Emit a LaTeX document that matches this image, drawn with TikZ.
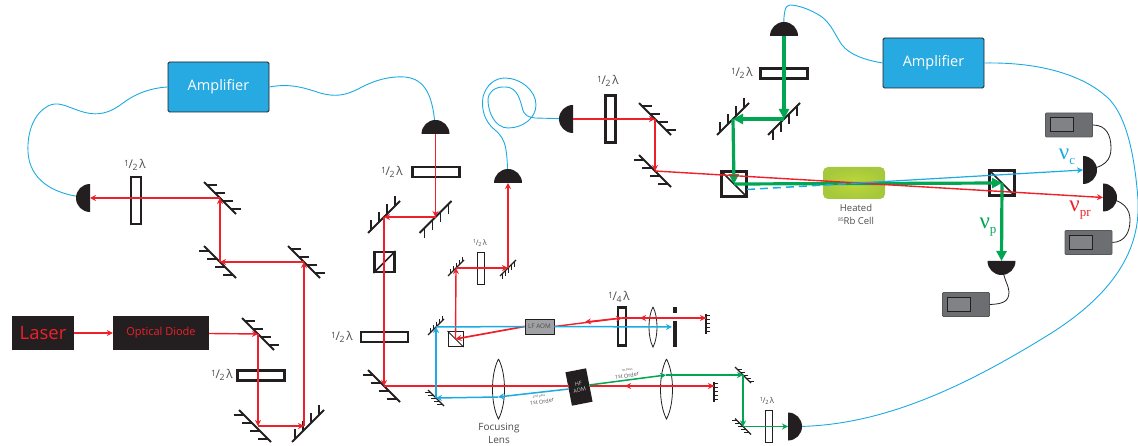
\documentclass[tikz,border=0pt]{standalone}
\usepackage{fontspec}
\usepackage{graphicx}
\usetikzlibrary{arrows.meta}
\setmainfont{Open Sans}
\newfontfamily\nufont{Liberation Serif}
\definecolor{beamred}{RGB}{238,32,42}
\definecolor{beamblue}{RGB}{28,170,226}
\definecolor{beamgreen}{RGB}{0,166,81}
\definecolor{inkblack}{RGB}{35,31,32}
\definecolor{ampblue}{RGB}{39,170,225}
\definecolor{scopegray}{RGB}{109,110,113}
\definecolor{screengray}{RGB}{128,130,133}
\definecolor{labelgray}{RGB}{75,75,78}
\definecolor{cellinner}{RGB}{192,215,55}
\definecolor{cellouter}{RGB}{165,200,60}
\newcommand{\halflam}{\raisebox{.4ex}{\scalebox{.72}{1}}\kern-.04em/\kern-.04em\raisebox{-.3ex}{\scalebox{.72}{2}}\,λ}
\newcommand{\quartlam}{\raisebox{.4ex}{\scalebox{.72}{1}}\kern-.04em/\kern-.04em\raisebox{-.3ex}{\scalebox{.72}{4}}\,λ}
\newcommand{\nusub}[1]{{\fontsize{23}{24}\selectfont ν}\raisebox{-1.1ex}{\fontsize{13}{14}\selectfont #1}}

\begin{document}
\begin{tikzpicture}[
    x=1pt, y=-1pt,
    mirrorline/.style={inkblack, line width=1.9pt},
    redbeam/.style={beamred, line width=1.4pt, -{Stealth[length=6pt, width=6pt]}},
    bluebeam/.style={beamblue, line width=1.5pt, -{Stealth[length=6pt, width=6pt]}},
    thingreen/.style={beamgreen, line width=1.5pt, -{Stealth[length=6pt, width=6pt]}},
    thickgreen/.style={beamgreen, line width=3.2pt, -{Stealth[length=10pt, width=10pt, inset=0pt]}},
    fibre/.style={beamblue, line width=0.9pt},
    wire/.style={inkblack, line width=0.8pt},
    amplifier/.style={draw=inkblack, rounded corners=1.5pt, fill=ampblue, text=white, minimum width=101, minimum height=50, line width=0.8pt, font=\fontsize{14.5}{16}\selectfont},
    blackbox/.style={fill=inkblack, text=beamred, inner sep=0pt},
    hplate/.style={draw=inkblack, fill=white, line width=2.2pt, minimum width=47, minimum height=10, inner sep=0pt},
    vplate/.style={draw=inkblack, fill=white, line width=2.2pt, minimum width=10, minimum height=47, inner sep=0pt},
    cube/.style={draw=inkblack, line width=2.2pt, minimum width=25, minimum height=25, inner sep=0pt},
    scopebox/.style={draw=scopegray!80!black, fill=scopegray, rounded corners=1pt, minimum width=47, minimum height=24, inner sep=0pt, line width=0.8pt},
    screenbox/.style={draw=inkblack, fill=screengray, minimum width=23, minimum height=14, inner sep=0pt, line width=1pt},
    oplabel/.style={text=labelgray, inner sep=0pt, font=\fontsize{12}{13}\selectfont},
    smalllabel/.style={text=labelgray, inner sep=0pt, font=\fontsize{7.5}{8}\selectfont},
    mirror/.pic={
        \draw[mirrorline] (-16,-16) -- (16,16);
        \foreach \t in {-13,-5,3,11} \draw[mirrorline] (\t,\t) -- ++(10,0);
    },
    tinymirror/.pic={
        \draw[inkblack, line width=1.2pt] (-8,-8) -- (8,8);
        \foreach \t in {-6,-3,0,3,6} \draw[inkblack, line width=0.8pt] (\t,\t) -- ++(5,0);
    },
    flatmirror/.pic={
        \draw[inkblack, line width=1.2pt] (0,-4) -- (0,16);
        \foreach \t in {-3,1,5,9,13} \draw[inkblack, line width=0.8pt] (0,\t) -- ++(4,0);
    },
    detector/.pic={
        \fill[inkblack] (-14pt,0pt) arc[start angle=180, end angle=0, radius=14pt] -- cycle;
    },
    lens/.pic={
        \draw[inkblack, line width=0.8pt] (0,-30) .. controls (-8,-15) and (-8,15) .. (0,30) .. controls (8,15) and (8,-15) .. (0,-30);
    }
]
    \useasboundingbox (0,0) rectangle (1138,446);

    % Beam corners
    \coordinate (mA) at (220,198);
    \coordinate (mB) at (220,262);
    \coordinate (mC) at (304,262);
    \coordinate (mD) at (258,334);
    \coordinate (mE) at (258,426);
    \coordinate (mF) at (304,426);
    \coordinate (mG) at (384,386);
    \coordinate (mH) at (384,217);
    \coordinate (mI) at (435.5,217);
    \coordinate (mJ) at (655,119);
    \coordinate (mK) at (655,171);
    \coordinate (mL) at (784,119);
    \coordinate (mM) at (733,119);
    \coordinate (mS) at (456,268);
    \coordinate (mT) at (508,268);
    \coordinate (mU) at (436,327);
    \coordinate (mV) at (436,398);
    \coordinate (mO) at (743,375);
    \coordinate (mP) at (743,426.5);
    \coordinate (flatU) at (706,318);
    \coordinate (flatL) at (714,386);

    % Detectors
    \coordinate (detA) at (90,198);
    \coordinate (detB) at (435.5,134);
    \coordinate (detC) at (508,183);
    \coordinate (detD) at (573,119);
    \coordinate (detE) at (784,36);
    \coordinate (detF) at (788,426.5);
    \coordinate (detG) at (1083,170);
    \coordinate (detH) at (1103,197.5);
    \coordinate (detI) at (1001.5,261);

    % Boxes
    \node[amplifier] (ampleft) at (218.5,87) {Amplifier};
    \node[amplifier] (ampright) at (933.5,63) {Amplifier};
    \node[blackbox, minimum width=62, minimum height=34, font=\fontsize{18.5}{20}\selectfont] (laser) at (43,333) {Laser};
    \node[blackbox, minimum width=96, minimum height=34, font=\fontsize{11}{12}\selectfont] (diode) at (161,333) {Optical Diode};
    \node[draw=inkblack, fill=screengray!75!white, line width=0.8pt, minimum width=29, minimum height=15, inner sep=0pt, font=\fontsize{6.3}{7}\selectfont, text=inkblack!80!white] (lfaom) at (539.5,326.5) {LF AOM};
    \node[fill=inkblack, text=white!80!black, minimum width=21, minimum height=34, inner sep=0pt, rotate=11, align=center, font=\fontsize{5.5}{6.5}\selectfont] (hfaom) at (579,387) {HF\\AOM};
    \node[shading=radial, inner color=cellinner, outer color=cellouter, rounded corners=5pt, minimum width=62, minimum height=32] (cell) at (854,183) {};
    \node[scopebox] (scopeG) at (1069,125) {};
    \node[screenbox] (screenG) at (1061.5,125) {};
    \node[scopebox] (scopeH) at (1088.5,242.5) {};
    \node[screenbox] (screenH) at (1081,242.5) {};
    \node[scopebox] (scopeI) at (966,304.5) {};
    \node[screenbox] (screenI) at (959,304.5) {};

    % Fibres
    \draw[fibre] (ampleft.west) .. controls (150,88) and (135,94) .. (123,103) .. controls (110,113) and (98,117) .. (80,111) .. controls (65,106) and (58,101) .. (48,106) .. controls (35,113) and (27,130) .. (28,152) .. controls (29,170) and (40,194) .. (detA);
    \draw[fibre] (ampleft.east) .. controls (290,83) and (305,88) .. (320,93) .. controls (335,97) and (345,96) .. (360,88) .. controls (375,80) and (390,76) .. (405,77) .. controls (425,79) and (434,95) .. (detB);
    \draw[fibre] (detC) .. controls (507,150) and (507,140) .. (495,130) .. controls (485,122) and (481,110) .. (483,97) .. controls (486,85) and (495,78) .. (505,78) .. controls (520,78) and (536,90) .. (536,105) .. controls (536,118) and (523,128) .. (508,128) .. controls (495,128) and (488,112) .. (488,100) .. controls (488,92) and (495,87) .. (503,87) .. controls (515,86) and (519,95) .. (522,107) .. controls (524,116) and (528,117) .. (535,118) -- (detD);
    \draw[fibre] (ampright.west) .. controls (865,60) and (850,55) .. (842,45) .. controls (835,35) and (832,25) .. (822,17) .. controls (812,10) and (798,5) .. (790,5) .. controls (785,5) and (783,12) .. (detE);
    \draw[fibre] (ampright.east) .. controls (1040,62) and (1085,75) .. (1110,100) .. controls (1128,120) and (1135,160) .. (1138,200) .. controls (1140,240) and (1125,290) .. (1040,340) .. controls (950,395) and (870,428) .. (detF);

    % Wires to the scopes
    \draw[wire] (scopeG.east) .. controls (1106,125) and (1111,135) .. (1111,148) .. controls (1111,160) and (1105,168) .. (detG);
    \draw[wire] (scopeH.east) .. controls (1125,242) and (1130,232) .. (1130,220) .. controls (1130,210) and (1125,200) .. (detH);
    \draw[wire] (scopeI.east) .. controls (1002,304) and (1009,302) .. (1009,292) .. controls (1009,285) and (1003,280) .. (detI);

    % Mirrors
    \pic at (mA) {mirror};
    \pic[rotate=180] at (mB) {mirror};
    \pic at (mC) {mirror};
    \pic at (mD) {mirror};
    \pic[rotate=180] at ([xshift=-3pt]mE) {mirror};
    \pic[rotate=90] at ([xshift=4pt]mF) {mirror};
    \pic[rotate=180] at (mG) {mirror};
    \pic[rotate=90] at (mH) {mirror};
    \pic[rotate=-90] at (mI) {mirror};
    \pic at (mJ) {mirror};
    \pic[rotate=180] at (mK) {mirror};
    \pic[rotate=-90] at (mL) {mirror};
    \pic[rotate=90] at (mM) {mirror};
    \pic[rotate=90] at (mS) {tinymirror};
    \pic[rotate=-90] at (mT) {tinymirror};
    \pic[rotate=90] at (mU) {tinymirror};
    \pic[rotate=180] at (mV) {tinymirror};
    \pic at (mO) {tinymirror};
    \pic[rotate=180] at (mP) {tinymirror};
    \pic at (flatU) {flatmirror};
    \pic at (flatL) {flatmirror};

    % Detector heads
    \pic[rotate=90] at (detA) {detector};
    \pic at (detB) {detector};
    \pic at (detC) {detector};
    \pic[rotate=90] at (detD) {detector};
    \pic at (detE) {detector};
    \pic[rotate=-90] at (detF) {detector};
    \pic[rotate=-90] at (detG) {detector};
    \pic[rotate=-90] at (detH) {detector};
    \pic[rotate=180] at (detI) {detector};

    % Wave plates
    \node[vplate] (plateA) at (136,200.5) {};
    \node[hplate] (plateB) at (261,375.5) {};
    \node[hplate] (plateC) at (436,172) {};
    \node[hplate] (plateD) at (384.5,337) {};
    \node[vplate] (plateE) at (610.5,119) {};
    \node[hplate] (plateF) at (784,73.5) {};
    \node[vplate, minimum width=7, minimum height=32, line width=1pt] (plateG) at (480.5,269) {};
    \node[vplate, minimum width=8, minimum height=38] (plateH) at (622,326.5) {};
    \node[vplate, minimum width=7, minimum height=32, line width=1pt] (plateI) at (768.5,426) {};

    % Lenses and aperture
    \pic at (498.5,389) {lens};
    \pic at (666.5,389) {lens};
    \pic[scale=0.67] at (653,327) {lens};
    \fill[inkblack] (673,307) rectangle (677,313);
    \fill[inkblack] (673,321) rectangle (677,347);

    % Beam splitters
    \node[cube] (cubeA) at (734,184) {};
    \node[cube] (cubeB) at (1002,183) {};
    \node[cube, minimum width=20, minimum height=20] (cubeC) at (384.5,262) {};
    \node[cube, minimum width=15, minimum height=15, line width=1pt] (cubeD) at (455.5,339) {};
    \draw[inkblack, line width=1.6pt] (cubeA.north west) -- (cubeA.south east);
    \draw[inkblack, line width=1.6pt] (cubeB.north west) -- (cubeB.south east);
    \draw[inkblack, line width=1.6pt] (cubeC.south west) -- (cubeC.north east);
    \draw[inkblack, line width=0.9pt] (cubeD.north west) -- (cubeD.south east);

    % Points along the beams
    \coordinate (lowback) at (625,386);
    \coordinate (bluemid) at (498,397);
    \coordinate (greenlens) at (666,375);
    \coordinate (quartplate) at (622,318);
    \coordinate (redmid) at (585,322);
    \coordinate (upback) at (640,318);
    \coordinate (bluestop) at (672,327);
    \coordinate (dashstart) at (747,189.5);
    \coordinate (cellmid) at (852,183.4);

    % Red beams
    \draw[redbeam] (laser) -- (diode);
    \draw[redbeam] (diode) -- (mD);
    \draw[redbeam] (mD) -- (mE);
    \draw[redbeam] (mE) -- (mF);
    \draw[redbeam] (mF) -- (mC);
    \draw[redbeam] (mC) -- (mB);
    \draw[redbeam] (mB) -- (mA);
    \draw[redbeam] (mA) -- (detA);
    \draw[redbeam] (detB) -- (mI);
    \draw[redbeam] (mI) -- (mH);
    \draw[redbeam] (mH) -- (mG);
    \draw[beamred, line width=1.4pt] (mG) -- (mG -| hfaom.west);
    \draw[redbeam] (mG -| hfaom.east) -- (flatL);
    \draw[redbeam] (flatL) -- (lowback);
    \draw[redbeam] (lfaom.east) -- (quartplate);
    \draw[redbeam] (quartplate) -- (redmid);
    \draw[redbeam] (quartplate) -- (flatU);
    \draw[redbeam] (flatU) -- (upback);
    \draw[redbeam, line width=1.7pt] (lfaom.west) -- (cubeD.center);
    \draw[redbeam] (cubeD.center) -- (mS);
    \draw[redbeam] (mS) -- (mT);
    \draw[redbeam] (mT) -- (detC);
    \draw[redbeam] (detD) -- (mJ);
    \draw[redbeam] (mJ) -- (mK);

    % Blue beams
    \draw[bluebeam] (mV) -- (mU);
    \draw[beamblue, line width=1.5pt] (mU) -- (lfaom.west);
    \draw[bluebeam] (lfaom.east) -- (bluestop);
    \draw[bluebeam] (hfaom.west) -- (bluemid);
    \draw[bluebeam] (bluemid) -- (mV);

    % Green beams
    \draw[thingreen] (hfaom.east) -- (greenlens);
    \draw[thingreen] (greenlens) -- (mO);
    \draw[thingreen] (mO) -- (mP);
    \draw[thingreen] (mP) -- (detF);
    \draw[thickgreen] (detE) -- (mL);
    \draw[thickgreen] (mL) -- (mM);
    \draw[thickgreen] (mM) -- (cubeA.center);
    \draw[thickgreen] (cubeA.center) -- (cubeB.center);
    \draw[thickgreen] (cubeB.center) -- (detI);

    % Beams through the cell
    \draw[redbeam] (mK) -- (detH);
    \draw[beamblue, line width=1.5pt, dash pattern=on 8pt off 5pt] (dashstart) -- (cellmid);
    \draw[bluebeam, line width=1.2pt] (cellmid) -- (detG);

    % Labels
    \node[oplabel] (lblA) at (135,165) {\halflam};
    \node[oplabel] (lblB) at (222,375) {\halflam};
    \node[oplabel] (lblC) at (392,172) {\halflam};
    \node[oplabel] (lblD) at (342,337) {\halflam};
    \node[oplabel] (lblE) at (608,81) {\halflam};
    \node[oplabel] (lblF) at (742,73) {\halflam};
    \node[smalllabel] (lblG) at (480,243) {\halflam};
    \node[oplabel] (lblH) at (619,297) {\quartlam};
    \node[smalllabel, font=\fontsize{8}{9}\selectfont] (lblI) at (767,401) {\halflam};
    \node[oplabel, align=center, font=\fontsize{10}{12.5}\selectfont] (lblLens) at (499,433.5) {Focusing\\Lens};
    \node[oplabel, align=center, font=\fontsize{9.5}{13}\selectfont] (lblCell) at (856,214.5) {Heated\\\raisebox{.6ex}{\fontsize{5}{5}\selectfont 85}Rb Cell};
    \node[smalllabel, rotate=9, font=\fontsize{5.5}{7}\selectfont] (lblOrderA) at (627,375.5) {1st Order};
    \node[smalllabel, rotate=9, font=\fontsize{3}{4}\selectfont] (lblPassA) at (627,370) {1st pass};
    \node[smalllabel, rotate=9, font=\fontsize{5.5}{7}\selectfont] (lblOrderB) at (542,401.5) {1st Order};
    \node[smalllabel, rotate=9, font=\fontsize{3}{4}\selectfont] (lblPassB) at (539,396.5) {2nd pass};
    \node[text=beamblue, inner sep=0pt, font=\nufont] (lblNuC) at (1067,157) {\nusub{c}};
    \node[text=beamred, inner sep=0pt, font=\nufont] (lblNuPr) at (1080,210) {\nusub{pr}};
    \node[text=beamgreen, inner sep=0pt, font=\nufont] (lblNuP) at (988,227) {\nusub{p}};
\end{tikzpicture}
\end{document}
